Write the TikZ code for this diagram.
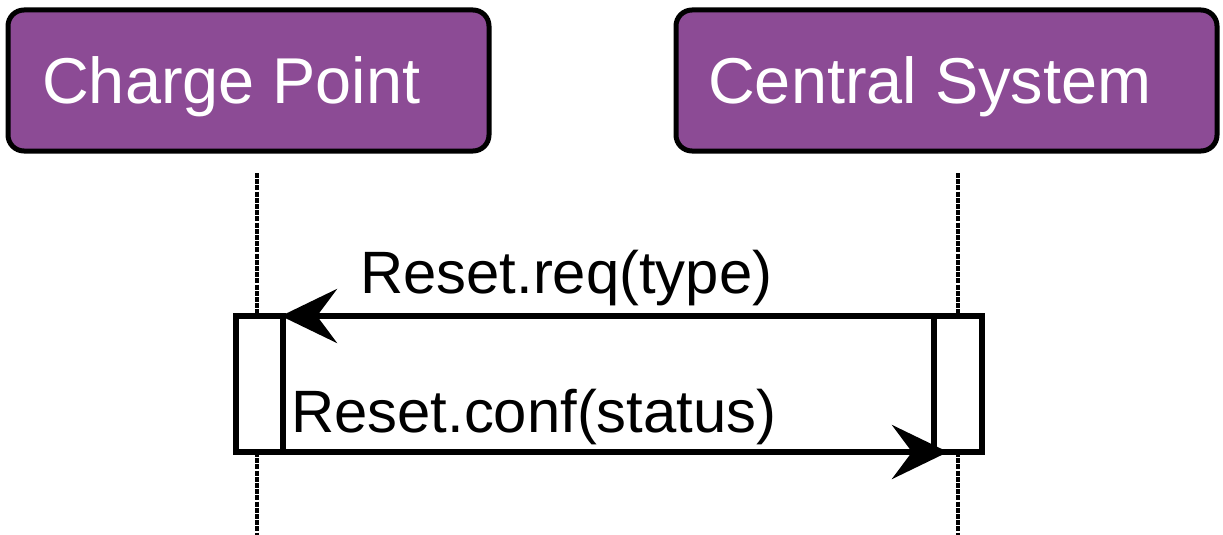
\documentclass[tikz,border=0pt]{standalone}
\usepackage{fontspec}
\setmainfont{Liberation Sans}
\usetikzlibrary{arrows.meta}
\definecolor{actorfill}{HTML}{8C4B95}
\begin{document}
\begin{tikzpicture}[x=1pt,y=-1pt,
  actor/.style={draw=black,line width=5pt,fill=actorfill,rounded corners=16pt},
  actorlabel/.style={anchor=base west,inner sep=0pt,text=white,font=\fontsize{64.8}{70}\selectfont},
  msglabel/.style={anchor=base west,inner sep=0pt,text=black,font=\fontsize{59.8}{66}\selectfont},
  lifeline/.style={line width=3.5pt,dash pattern=on 5pt off 1.2pt},
  activation/.style={draw=black,line width=6pt,fill=white},
  msg/.style={line width=5.5pt,-{Stealth[length=56pt,width=54pt,inset=20pt]}}]
\useasboundingbox (0,0) rectangle (1223,535);
% actors
\draw[actor] (8,10) rectangle (489,151);
\draw[actor] (676,10) rectangle (1217,151);
\node[actorlabel] (cp) at (42,103) {Charge Point};
\node[actorlabel] (cs) at (708,103) {Central System};
% lifelines
\coordinate (l1top) at (257,173);
\coordinate (l1bot) at (257,535);
\coordinate (l2top) at (958,173);
\coordinate (l2bot) at (958,535);
\draw[lifeline] (l1top) -- (l1bot);
\draw[lifeline] (l2top) -- (l2bot);
% activations
\draw[activation] (236,316) rectangle (283,452);
\draw[activation] (934,316) rectangle (982,452);
\coordinate (a1r) at (283,316);
\coordinate (a2l) at (934,316);
\coordinate (a1rb) at (283,452);
\coordinate (a2lb) at (948,452);
% messages
\draw[msg,shorten >=-2pt] (a2l) -- (a1r);
\draw[msg] (a1rb) -- (a2lb);
\node[msglabel] (req) at (360,293) {Reset.req(type)};
\node[msglabel] (conf) at (291,432) {Reset.conf(status)};
\end{tikzpicture}
\end{document}
